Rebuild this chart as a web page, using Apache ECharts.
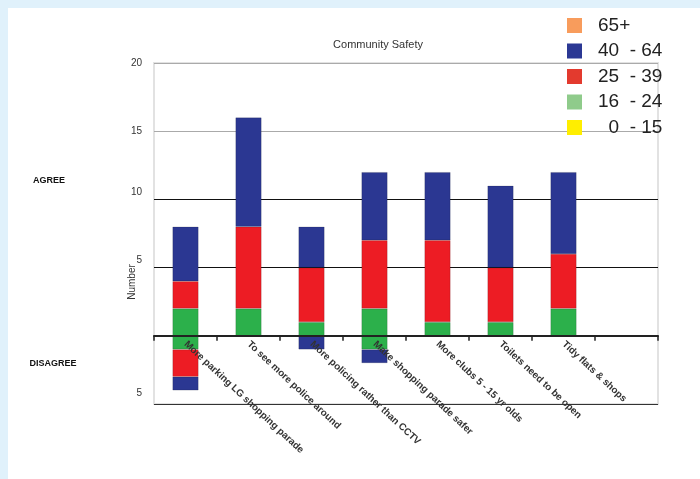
<!DOCTYPE html>
<html>
<head>
<meta charset="utf-8">
<title>Community Safety</title>
<script src="https://cdn.jsdelivr.net/npm/echarts@6/dist/echarts.min.js"></script>
<style>
  html, body { margin: 0; padding: 0; background: #ffffff; }
  #chart { width: 700px; height: 479px; }
</style>
</head>
<body>
<div id="chart"></div>
<script>
// Survey statements (last slot left empty)
const categories = [
  'More parking LG shopping parade',
  'To see more police around',
  'More policing rather than CCTV',
  'Make shopping parade safer',
  'More clubs 5 - 15 yr olds',
  'Toilets need to be open',
  'Tidy flats & shops',
  ''
];

// Age groups as shown in the legend (top to bottom)
const ageGroups = ['65+', '40  - 64', '25  - 39', '16  - 24', '  0  - 15'];

// Number agreeing, per age group
const agree16to24 = [2, 2, 1, 2, 1, 1, 2, null];
const agree25to39 = [2, 6, 4, 5, 6, 4, 4, null];
const agree40to64 = [4, 8, 3, 5, 5, 6, 6, null];

// Number disagreeing, per age group (drawn below zero)
const disagree16to24 = [-1, null, null, -1, null, null, null, null];
const disagree25to39 = [-2, null, null, null, null, null, null, null];
const disagree40to64 = [-1, null, -1, -1, null, null, null, null];

// Groups with no responses
const age65plus = [];
const age0to15 = [];

// Value axis range and step
const yMin = -5, yMax = 20, yStep = 5;

const FONT = '"Liberation Sans", Arial, Helvetica, sans-serif';
const barColors = { old: '#f79b5b', mid: '#2b3792', young: '#ed1c24', teen: '#2cb04b', kid: '#ffee00' };
const legendColors = { '65+': '#f89c5c', '40  - 64': '#2b3894', '25  - 39': '#e33a2e', '16  - 24': '#8fcb8b', '  0  - 15': '#ffee00' };

// Plot area edges in pixels
const gridTop = 63, gridBottom = 75, gridLeft = 154, gridRight = 42;
const plotHeight = 479 - gridTop - gridBottom;
// Shift the category axis up from the plot bottom to the zero line
const zeroLift = plotHeight * (0 - yMin) / (yMax - yMin);

function barSeries(name, data, color) {
  return {
    name: name,
    type: 'bar',
    stack: 'total',
    stackStrategy: 'samesign',
    barWidth: 26,
    data: data,
    itemStyle: { color: color, borderColor: 'rgba(0,0,0,0.25)', borderWidth: 0.6 },
    emphasis: { disabled: true }
  };
}

// Small per-label lift of the value-axis numbers
const labelLift = { '20': 0, '15': 0, '10': 1, '5': 1, '-5': 2 };

const chart = echarts.init(document.getElementById('chart'), null, { renderer: 'canvas' });
chart.setOption({
  animation: false,
  backgroundColor: '#ffffff',
  textStyle: { fontFamily: FONT },
  title: {
    text: 'Community Safety',
    left: 373,
    top: 34,
    textAlign: 'center',
    textStyle: { fontSize: 11, fontWeight: 'normal', color: '#333', fontFamily: FONT }
  },
  legend: {
    orient: 'vertical',
    left: 567,
    top: 16,
    padding: 0,
    itemWidth: 15,
    itemHeight: 15,
    itemGap: 6.5,
    icon: 'rect',
    selectedMode: false,
    data: ageGroups.map(n => ({ name: n, itemStyle: { color: legendColors[n], borderWidth: 0 } })),
    textStyle: { fontSize: 19, lineHeight: 19, color: '#222', fontFamily: FONT, padding: [0, 0, 0, 11] }
  },
  grid: {
    left: gridLeft,
    right: gridRight,
    top: gridTop,
    bottom: gridBottom,
    outerBoundsMode: 'none',
    containLabel: false,
    show: true,
    borderColor: '#e2e2e2',
    borderWidth: 2,
    backgroundColor: 'transparent'
  },
  xAxis: {
    type: 'category',
    data: categories,
    position: 'bottom',
    offset: -zeroLift,
    z: 10,
    axisLine: { onZero: false, lineStyle: { color: '#222', width: 2 } },
    axisTick: { show: true, length: 5, lineStyle: { color: '#222', width: 1.5 } },
    axisLabel: {
      interval: 0,
      rotate: -43,
      margin: 7,
      fontSize: 9.8,
      fontWeight: 'bold',
      color: '#333',
      fontFamily: FONT,
      hideOverlap: false
    },
    splitLine: { show: false }
  },
  yAxis: {
    type: 'value',
    min: yMin,
    max: yMax,
    interval: yStep,
    axisLine: { show: false },
    axisTick: { show: false },
    axisLabel: {
      margin: 12,
      fontSize: 10,
      color: '#333',
      fontFamily: FONT,
      formatter: function (v) {
        if (v === 0) return '';
        const lift = labelLift[String(v)] || 0;
        return '{l' + lift + '|' + Math.abs(v) + '}';
      },
      rich: {
        l0: { fontSize: 10, color: '#333' },
        l1: { fontSize: 10, color: '#333', padding: [0, 0, 15, 0] },
        l2: { fontSize: 10, color: '#333', padding: [0, 0, 22, 0] }
      }
    },
    splitLine: {
      show: true,
      lineStyle: { color: ['#333', '#222', '#111', '#111', '#aaa', '#aaa'], width: 1 }
    }
  },
  graphic: [
    { type: 'rect', z: -10, shape: { x: 0, y: 0, width: 700, height: 8 }, style: { fill: '#e0f1fb' } },
    { type: 'rect', z: -10, shape: { x: 0, y: 0, width: 8, height: 479 }, style: { fill: '#e0f1fb' } },
    { type: 'text', x: 132, y: 282, rotation: Math.PI / 2,
      style: { text: 'Number', font: '10px ' + FONT, fill: '#333', textAlign: 'center', textVerticalAlign: 'middle' } },
    { type: 'text', x: 49, y: 181,
      style: { text: 'AGREE', font: 'bold 9px ' + FONT, fill: '#111', textAlign: 'center', textVerticalAlign: 'middle' } },
    { type: 'text', x: 53, y: 364,
      style: { text: 'DISAGREE', font: 'bold 9px ' + FONT, fill: '#111', textAlign: 'center', textVerticalAlign: 'middle' } }
  ],
  series: [
    barSeries('16  - 24', agree16to24, barColors.teen),
    barSeries('25  - 39', agree25to39, barColors.young),
    barSeries('40  - 64', agree40to64, barColors.mid),
    barSeries('16  - 24', disagree16to24, barColors.teen),
    barSeries('25  - 39', disagree25to39, barColors.young),
    barSeries('40  - 64', disagree40to64, barColors.mid),
    barSeries('65+', age65plus, barColors.old),
    barSeries('  0  - 15', age0to15, barColors.kid)
  ]
});
</script>
</body>
</html>
